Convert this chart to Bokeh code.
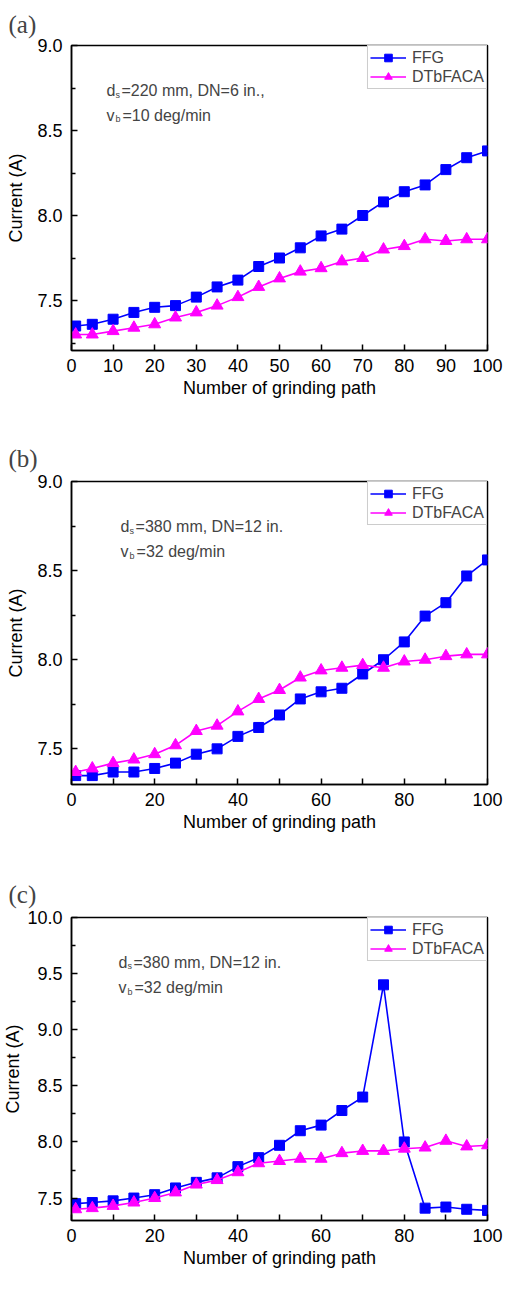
from bokeh.plotting import figure
from bokeh.layouts import column
from bokeh.models import FixedTicker, NumeralTickFormatter, Label, Range1d
from bokeh.embed import file_html
from bokeh.resources import INLINE

# ---------------- data ----------------
paths = [1, 5, 10, 15, 20, 25, 30, 35, 40, 45, 50, 55, 60, 65, 70, 75, 80, 85, 90, 95, 100]

ffg_a = [7.35, 7.36, 7.39, 7.43, 7.46, 7.47, 7.52, 7.58, 7.62, 7.70, 7.75,
         7.81, 7.88, 7.92, 8.00, 8.08, 8.14, 8.18, 8.27, 8.34, 8.38]
dtb_a = [7.30, 7.30, 7.32, 7.34, 7.36, 7.40, 7.43, 7.47, 7.52, 7.58, 7.63,
         7.67, 7.69, 7.73, 7.75, 7.80, 7.82, 7.86, 7.85, 7.86, 7.86]

ffg_b = [7.35, 7.35, 7.37, 7.37, 7.39, 7.42, 7.47, 7.50, 7.57, 7.62, 7.69,
         7.78, 7.82, 7.84, 7.92, 8.00, 8.10, 8.245, 8.32, 8.47, 8.56]
dtb_b = [7.37, 7.39, 7.42, 7.44, 7.47, 7.52, 7.60, 7.63, 7.71, 7.78, 7.83,
         7.90, 7.94, 7.955, 7.97, 7.955, 7.99, 8.00, 8.02, 8.03, 8.03]

ffg_c = [7.45, 7.46, 7.475, 7.50, 7.53, 7.59, 7.64, 7.68, 7.78, 7.86, 7.97,
         8.10, 8.15, 8.28, 8.40, 9.40, 8.00, 7.41, 7.42, 7.40, 7.39]
dtb_c = [7.40, 7.41, 7.43, 7.46, 7.50, 7.55, 7.62, 7.66, 7.73, 7.81, 7.83,
         7.85, 7.85, 7.90, 7.92, 7.92, 7.94, 7.95, 8.01, 7.96, 7.97]

series_names = ["FFG", "DTbFACA"]
x_label = "Number of grinding path"
y_label = "Current (A)"

FONT = "Liberation Sans"
BLUE = "#0000FF"
MAGENTA = "#FF00FF"


def panel(tag, ffg, dtb, ylo, yhi, ymajor, yminor, xmajor, xminor,
          line1, line2, sub1, sub2, ax, ay1, ay2, fh, top, bottom, tstand, ylab_standoff):
    p = figure(frame_width=416, frame_height=fh, output_backend="svg", toolbar_location=None,
               x_range=Range1d(0, 100), y_range=Range1d(ylo, yhi),
               min_border_left=69, min_border_right=19,
               min_border_top=top, min_border_bottom=bottom,
               title=tag)
    p.title.text_font = "Liberation Serif"
    p.title.text_font_size = "25px"
    p.title.text_font_style = "normal"
    p.title.align = "left"
    p.title.offset = -63
    p.title.standoff = tstand

    p.grid.visible = False
    p.outline_line_color = "black"
    p.outline_line_width = 1.5
    p.background_fill_color = "white"
    p.border_fill_color = "white"

    p.line(paths, ffg, color=BLUE, line_width=1.6, legend_label=series_names[0])
    p.scatter(paths, ffg, marker="square", size=10, color=BLUE, legend_label=series_names[0])
    p.line(paths, dtb, color=MAGENTA, line_width=1.6, legend_label=series_names[1])
    p.scatter(paths, dtb, marker="triangle", size=12, color=MAGENTA, legend_label=series_names[1])

    for ax_ in (p.xaxis[0], p.yaxis[0]):
        ax_.axis_line_color = "black"
        ax_.axis_line_width = 1.5
        ax_.major_tick_out = 0
        ax_.minor_tick_out = 0
        ax_.major_tick_line_color = "black"
        ax_.minor_tick_line_color = "black"
        ax_.major_tick_line_width = 1.5
        ax_.minor_tick_line_width = 1.5
        ax_.major_label_text_font = FONT
        ax_.major_label_text_font_size = "18px"
        ax_.major_label_text_color = "black"
        ax_.axis_label_text_font = FONT
        ax_.axis_label_text_font_size = "18px"
        ax_.axis_label_text_font_style = "normal"
        ax_.axis_label_text_color = "black"

    p.xaxis.ticker = FixedTicker(ticks=xmajor, minor_ticks=xminor)
    p.xaxis.major_tick_in = 6
    p.xaxis.minor_tick_in = 6
    p.xaxis.major_label_standoff = 8
    p.xaxis.axis_label = x_label
    p.xaxis.axis_label_standoff = 3

    p.yaxis.ticker = FixedTicker(ticks=ymajor, minor_ticks=yminor)
    p.yaxis.formatter = NumeralTickFormatter(format="0.0")
    p.yaxis.major_tick_in = 6
    p.yaxis.minor_tick_in = 4
    p.yaxis.major_label_standoff = 9
    p.yaxis.axis_label = y_label
    p.yaxis.axis_label_standoff = ylab_standoff

    lg = p.legend[0]
    lg.location = "top_right"
    lg.margin = 0
    lg.padding = 2
    lg.spacing = 0
    lg.glyph_width = 36
    lg.glyph_height = 19
    lg.label_height = 19
    lg.label_standoff = 6
    lg.label_text_font = FONT
    lg.label_text_font_size = "16px"
    lg.border_line_color = "#999999"
    lg.border_line_width = 1
    lg.background_fill_alpha = 1.0

    for y, main, sub in ((ay1, "d", sub1), (ay2, "v", sub2)):
        p.add_layout(Label(x=ax, y=y, text=main, text_font=FONT, text_font_size="16px",
                           text_baseline="alphabetic"))
        p.add_layout(Label(x=ax, y=y, x_offset=9, y_offset=-4, text=sub, text_font=FONT,
                           text_font_size="9px", text_baseline="alphabetic"))
    p.add_layout(Label(x=ax, y=ay1, x_offset=15, text=line1, text_font=FONT,
                       text_font_size="16px", text_baseline="alphabetic"))
    p.add_layout(Label(x=ax, y=ay2, x_offset=16, text=line2, text_font=FONT,
                       text_font_size="16px", text_baseline="alphabetic"))
    return p


xa = list(range(0, 101, 10))
xb = list(range(0, 101, 20))
xb_minor = list(range(10, 100, 20))

pa = panel("(a)", ffg_a, dtb_a, 7.206, 9.0, [7.5, 8.0, 8.5, 9.0], [7.25, 7.75, 8.25, 8.75],
           xa, [], "=220 mm, DN=6 in.,", "=10 deg/min", "s", "b",
           8.4, 8.735, 8.59, 305, 44, 69, 16, 8)
pb = panel("(b)", ffg_b, dtb_b, 7.30, 9.0, [7.5, 8.0, 8.5, 9.0], [7.25, 7.75, 8.25, 8.75],
           xb, xb_minor, "=380 mm, DN=12 in.", "=32 deg/min", "s", "b",
           11.8, 8.747, 8.607, 303, 62, 65, 20, 8)
pc = panel("(c)", ffg_c, dtb_c, 7.30, 10.0, [7.5, 8.0, 8.5, 9.0, 9.5, 10.0],
           [7.25, 7.75, 8.25, 8.75, 9.25, 9.75],
           xb, xb_minor, "=380 mm, DN=12 in.", "=32 deg/min", "s", "b",
           11.3, 9.60, 9.376, 303, 68, 54, 20, 1)

layout = column(pa, pb, pc, spacing=0)
open("out.html", "w").write(file_html(layout, INLINE))
